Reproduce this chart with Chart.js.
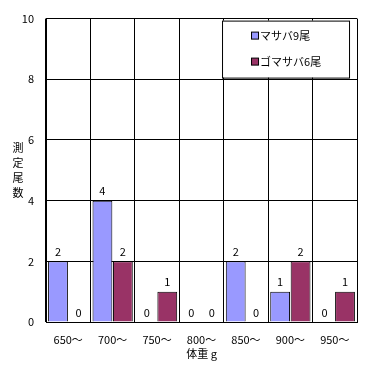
<!DOCTYPE html>
<html>
<head>
<meta charset="utf-8">
<script src="https://cdn.jsdelivr.net/npm/chart.js@4"></script>
<style>
  html, body { margin:0; padding:0; background:#fff; }
  #wrap { width:375px; height:366px; }
</style>
</head>
<body>
<div id="wrap"><canvas id="c"></canvas></div>
<script>
// ---------- Data ----------
const categories = ['650〜','700〜','750〜','800〜','850〜','900〜','950〜'];
const masaba     = [2, 4, 0, 0, 2, 1, 0];
const gomasaba   = [0, 2, 1, 0, 0, 2, 1];
const seriesNames = ['マサバ9尾', 'ゴマサバ6尾'];
const yTitle = '測定尾数';
const xTitle = '体重 g';

const FONT = '"Noto Sans CJK JP", "DejaVu Sans", sans-serif';
const cBlue = '#9999ff';
const cRed  = '#993366';

// value labels above every bar (including zeros)
const valueLabels = {
  id: 'valueLabels',
  afterDatasetsDraw(chart){
    const ctx = chart.ctx;
    ctx.save();
    ctx.font = '11px ' + FONT;
    ctx.fillStyle = '#000';
    ctx.textAlign = 'center';
    ctx.textBaseline = 'bottom';
    chart.data.datasets.forEach((ds, i) => {
      chart.getDatasetMeta(i).data.forEach((bar, j) => {
        ctx.fillText(String(ds.data[j]), bar.x, bar.y - 4);
      });
    });
    ctx.restore();
  }
};

// legend box inside plot + stacked vertical y title
const boxLegend = {
  id: 'boxLegend',
  afterDraw(chart){
    const ctx = chart.ctx;
    const a = chart.chartArea;
    ctx.save();
    // legend frame
    const bx = a.left + (a.right - a.left) * 0.566, by = a.top + 2;
    const bw = 127, bh = 57;
    ctx.fillStyle = '#fff';
    ctx.fillRect(bx, by, bw, bh);
    ctx.strokeStyle = '#000';
    ctx.lineWidth = 1;
    ctx.strokeRect(bx + 0.5, by + 0.5, bw, bh);
    ctx.font = '11px ' + FONT;
    ctx.textBaseline = 'middle';
    ctx.textAlign = 'left';
    chart.data.datasets.forEach((ds, i) => {
      const y = by + 15 + i * 26;
      ctx.fillStyle = ds.backgroundColor;
      ctx.fillRect(bx + 29, y - 3.5, 7, 7);
      ctx.strokeRect(bx + 29.5, y - 3.5, 7, 7);
      ctx.fillStyle = '#000';
      ctx.fillText(ds.label, bx + 38, y);
    });
    // y title, one character per line
    ctx.textAlign = 'center';
    const chars = Array.from(yTitle);
    const mid = (a.top + a.bottom) / 2;
    chars.forEach((ch, k) => {
      ctx.fillText(ch, 18, mid + (k - (chars.length - 1) / 2) * 15);
    });
    ctx.restore();
  }
};

const barBorder = c => (c.raw === 0 ? 0 : 1);

new Chart(document.getElementById('c'), {
  type: 'bar',
  data: {
    labels: categories,
    datasets: [
      { label: seriesNames[0], data: masaba,   backgroundColor: cBlue, borderColor: '#000', borderWidth: barBorder, borderSkipped: 'bottom' },
      { label: seriesNames[1], data: gomasaba, backgroundColor: cRed,  borderColor: '#000', borderWidth: barBorder, borderSkipped: 'bottom' }
    ]
  },
  options: {
    responsive: true,
    maintainAspectRatio: false,
    animation: false,
    layout: { padding: { left: 0, right: 18, top: 12, bottom: 0 } },
    datasets: { bar: { categoryPercentage: 0.92, barPercentage: 0.97 } },
    plugins: { legend: { display: false }, tooltip: { enabled: false } },
    scales: {
      x: {
        afterFit(s){ s.height = 44; },
        grid: { color: '#000', lineWidth: 1, drawTicks: false, offset: true },
        border: { color: '#000', width: 1 },
        ticks: { color: '#000', font: { family: FONT, size: 11 }, padding: 11, maxRotation: 0 },
        title: { display: true, text: xTitle, color: '#000', font: { family: FONT, size: 11 }, padding: { top: 0, bottom: 6 } }
      },
      y: {
        min: 0, max: 10,
        afterFit(s){ s.width = 46; },
        grid: { color: '#000', lineWidth: 1, drawTicks: false },
        border: { color: '#000', width: 1 },
        ticks: { stepSize: 2, color: '#000', font: { family: FONT, size: 11 }, padding: 12 }
      }
    }
  },
  plugins: [valueLabels, boxLegend]
});
</script>
</body>
</html>
